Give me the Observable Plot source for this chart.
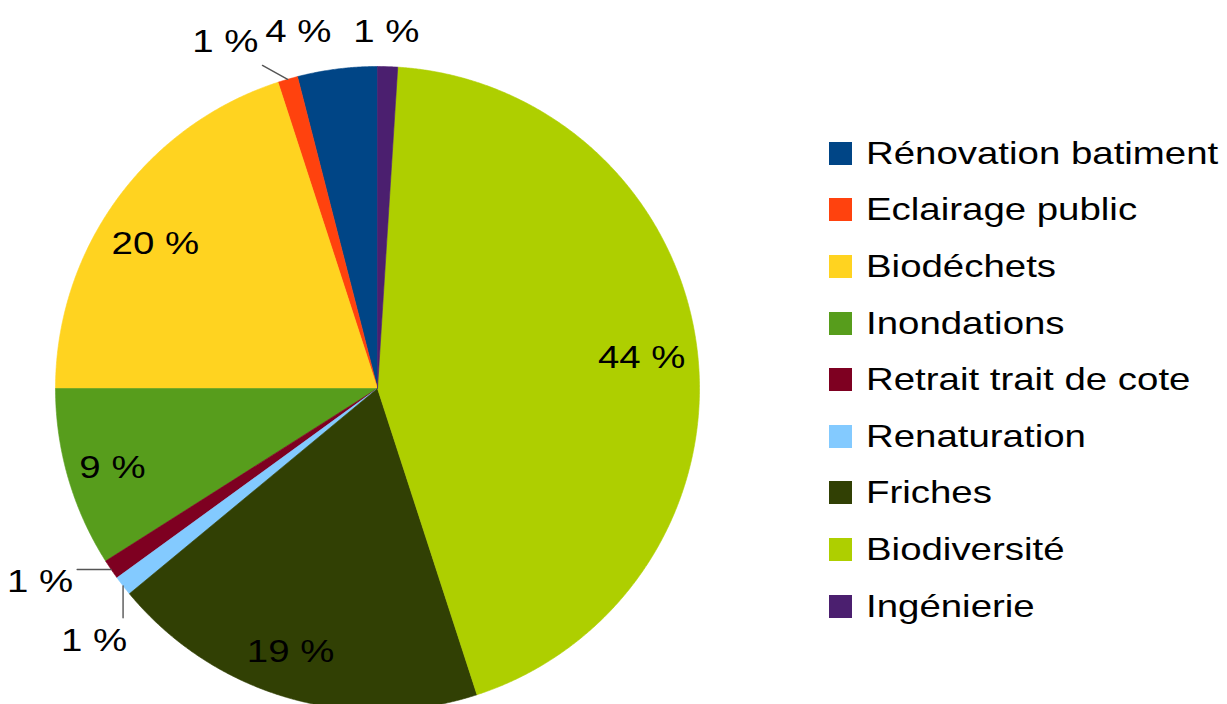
<!DOCTYPE html>
<html><head><meta charset="utf-8">
<script src="https://cdn.jsdelivr.net/npm/d3@7"></script>
<script src="https://cdn.jsdelivr.net/npm/@observablehq/plot@0.6"></script>
<style>
body{margin:0;background:#fff;font-family:"Liberation Sans",Arial,sans-serif;}
#wrap{position:relative;width:1227px;height:704px;overflow:hidden;background:#fff;}
#legend{position:absolute;left:829px;top:125px;}
.item{display:flex;align-items:center;height:56.6px;}
.sw{width:23px;height:23px;margin-right:14px;flex:none;}
.lab{font-size:32px;display:inline-block;transform:scaleX(1.2);transform-origin:left center;white-space:nowrap;color:#000;}
</style></head><body><div id="wrap"></div>
<script>
// ---- data ----
const categories = ["Rénovation batiment","Eclairage public","Biodéchets","Inondations","Retrait trait de cote","Renaturation","Friches","Biodiversité","Ingénierie"];
const values = [4, 1, 20, 9, 1, 1, 19, 44, 1];
const colors = ["#004586","#ff420e","#ffd320","#579d1c","#7e0021","#83caff","#314004","#aecf00","#4b1f6f"];
const percentLabels = values.map(v => `${v} %`);

// ---- layout (not data) ----
const R = 322, CX = 377, CY = 388;       // pie placement in px (scale ranges)
const px = p => p / R;                   // pixel -> data units
const labelLayout = {
  0: {type: "out", r: 1.136, nudge: 5.3},
  1: {type: "leader", elbowR: 1.065, elbowNudge: 3.4, off: [-4, -24]},
  2: {type: "in", r: 0.824, nudge: 2.85},
  3: {type: "in", r: 0.859, nudge: 0.4},
  4: {type: "leaderH", len: 34, off: [-4, 12]},
  5: {type: "leaderV", len: 32, off: [4, 23]},
  6: {type: "in", r: 0.86, nudge: -2.1},
  7: {type: "in", r: 0.826, nudge: -0.5},
  8: {type: "out", r: 1.109, nudge: 0.4}
};
const TEXT_STRETCH = 1.2;

// ---- geometry from data ----
const total = d3.sum(values);
const toXY = (theta, r) => ({x: -r * Math.sin(theta), y: r * Math.cos(theta)});
const deg = Math.PI / 180;
let cum = 0;
const slices = values.map((v, i) => {
  const a0 = cum / total * 2 * Math.PI;
  cum += v;
  const a1 = cum / total * 2 * Math.PI;
  return {i, name: categories[i], a0, a1, mid: (a0 + a1) / 2};
});
const slicePts = [];
for (const s of slices) {
  slicePts.push({name: s.name, x: 0, y: 0});
  const n = Math.max(2, Math.ceil((s.a1 - s.a0) / (0.25 * deg)));
  for (let k = 0; k <= n; k++) {
    const t = s.a0 + (s.a1 - s.a0) * k / n;
    slicePts.push({name: s.name, ...toXY(t, 1)});
  }
  slicePts.push({name: s.name, x: 0, y: 0});
}
const leaderPts = [];
const labelsMid = [], labelsEnd = [];
for (const s of slices) {
  const L = labelLayout[s.i];
  const label = percentLabels[s.i];
  if (L.type === "in" || L.type === "out") {
    const p = toXY(s.mid + L.nudge * deg, L.r);
    labelsMid.push({label, px: p.x, py: p.y});
  } else {
    const e = toXY(s.mid, 1);
    let end;
    if (L.type === "leader") end = toXY(s.mid + L.elbowNudge * deg, L.elbowR);
    else if (L.type === "leaderH") end = {x: e.x - px(L.len), y: e.y};
    else end = {x: e.x, y: e.y - px(L.len)};
    leaderPts.push({id: s.i, x: e.x, y: e.y}, {id: s.i, x: end.x, y: end.y});
    labelsEnd.push({label, px: end.x + px(L.off[0]), py: end.y - px(L.off[1])});
  }
}

const plot = Plot.plot({
  width: 1227, height: 704, margin: 0,
  x: {domain: [-1, 1], range: [CX - R, CX + R], axis: null},
  y: {domain: [-1, 1], range: [CY + R, CY - R], axis: null},
  color: {domain: categories, range: colors},
  style: {fontFamily: "Liberation Sans, Arial, sans-serif", background: "white", overflow: "hidden"},
  marks: [
    Plot.line(slicePts, {x: "x", y: "y", z: "name", fill: "name", stroke: "name", strokeWidth: 0.6, curve: "linear"}),
    Plot.line(leaderPts, {x: "x", y: "y", z: "id", stroke: "#555", strokeWidth: 1.4}),
    Plot.text(labelsMid, {x: d => d.px, y: d => d.py, text: d => d.label, fontSize: 32, fill: "#000", textAnchor: "middle"}),
    Plot.text(labelsEnd, {x: d => d.px, y: d => d.py, text: d => d.label, fontSize: 32, fill: "#000", textAnchor: "end"})
  ]
});
const wrap = document.getElementById("wrap");
wrap.appendChild(plot);
// stretch label glyphs horizontally (keeps Plot's positioning untouched)
plot.querySelectorAll('g[aria-label="text"] text').forEach(t => {
  const w = t.getComputedTextLength();
  t.setAttribute("textLength", (w * TEXT_STRETCH).toFixed(1));
  t.setAttribute("lengthAdjust", "spacingAndGlyphs");
});

// legend
const legend = document.createElement("div");
legend.id = "legend";
categories.forEach((c, i) => {
  const item = document.createElement("div");
  item.className = "item";
  const sw = document.createElement("span");
  sw.className = "sw";
  sw.style.background = colors[i];
  const lab = document.createElement("span");
  lab.className = "lab";
  lab.textContent = c;
  item.append(sw, lab);
  legend.appendChild(item);
});
wrap.appendChild(legend);
</script></body></html>
